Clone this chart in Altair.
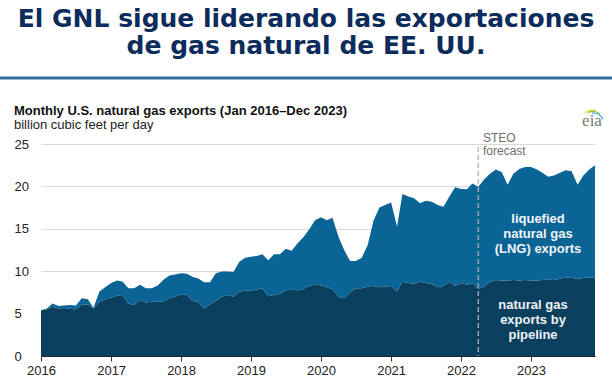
import altair as alt
import pandas as pd

# ---------------- data ----------------
months = [f"{y}/{m:02d}/01" for y in range(2016, 2024) for m in range(1, 13)]

pipeline = [
    5.4, 5.5, 5.8, 5.6, 5.65, 5.55, 5.5, 6.0, 6.1, 5.6, 6.4, 6.7,      # 2016
    6.9, 7.1, 7.2, 6.2, 6.0, 6.6, 6.3, 6.4, 6.4, 6.4, 6.8, 7.0,        # 2017
    7.3, 7.2, 6.5, 6.4, 5.6, 6.1, 6.5, 7.0, 7.2, 7.0, 7.6, 7.7,        # 2018
    7.7, 7.85, 8.0, 7.05, 7.2, 7.35, 7.75, 7.8, 7.75, 7.9, 8.3, 8.4,   # 2019
    8.3, 8.1, 7.9, 7.0, 6.8, 7.5, 8.0, 8.0, 8.2, 8.25, 8.1, 8.2,       # 2020
    8.25, 7.6, 8.75, 8.6, 8.5, 8.75, 8.6, 8.5, 8.1, 8.25, 8.75, 8.25,  # 2021
    8.6, 8.4, 8.6, 7.9, 8.2, 8.75, 8.95, 8.9, 8.9, 8.95, 8.9, 8.95,    # 2022
    8.9, 8.9, 8.95, 9.0, 8.95, 9.1, 9.3, 9.2, 9.1, 9.2, 9.3, 9.25,     # 2023
]

lng = [
    0.0, 0.1, 0.4, 0.3, 0.3, 0.45, 0.45, 0.8, 0.6, 0.1, 1.2, 1.4,          # 2016
    1.7, 1.8, 1.6, 1.8, 2.0, 1.8, 1.7, 1.6, 1.9, 2.6, 2.7, 2.6,            # 2017
    2.45, 2.5, 2.85, 2.75, 3.1, 2.6, 3.25, 2.95, 2.75, 2.9, 3.5, 3.9,      # 2018
    4.0, 3.95, 4.0, 4.25, 4.8, 4.65, 4.9, 4.6, 5.55, 6.1, 6.65, 7.6,       # 2019
    8.05, 7.9, 8.4, 7.1, 5.7, 3.7, 3.2, 3.6, 4.9, 7.7, 9.4, 9.6,           # 2020
    9.85, 7.65, 10.35, 10.2, 10.1, 9.25, 9.7, 9.7, 9.7, 9.35, 10.05, 11.65,  # 2021
    11.1, 11.25, 11.75, 12.05, 12.6, 12.75, 13.05, 12.8, 11.3, 12.55, 13.15, 13.35,  # 2022
    13.4, 13.1, 12.65, 12.15, 12.35, 12.5, 12.6, 12.6, 11.1, 12.1, 12.7, 13.25,      # 2023
]

series = ["pipeline", "LNG"]
series_colors = ["#0b3f5e", "#0a6496"]
year_ticks = list(range(2016, 2024))
y_ticks = [0, 5, 10, 15, 20, 25]
forecast_start = ["2022/04/01"]

title_text = "El GNL sigue liderando las exportaciones\nde gas natural de EE. UU."
subtitle_text = "Monthly U.S. natural gas exports (Jan 2016\u2013Dec 2023)"
units_text = "billion cubic feet per day"
steo_text = "STEO\nforecast"
lng_label = "liquefied\nnatural gas\n(LNG) exports"
pipe_label = "natural gas\nexports by\npipeline"

# ---------------- build table ----------------
rows = []
for i, d in enumerate(months):
    rows.append({"date": d, "series": series[0], "ord": 0, "value": pipeline[i]})
    rows.append({"date": d, "series": series[1], "ord": 1, "value": lng[i]})
df = pd.DataFrame(rows)

W, H = 554, 212
FONT = "Liberation Sans"

x_enc = alt.X(
    "date:T",
    scale=alt.Scale(domain=[alt.DateTime(year=2016, month=1, date=1),
                            alt.DateTime(year=2023, month=12, date=1)]),
    axis=alt.Axis(
        values=[alt.DateTime(year=y, month=1, date=1) for y in year_ticks],
        format="%Y", title=None, grid=False,
        labelFont=FONT, labelFontSize=13, labelColor="#222222",
        tickColor="#333333", tickSize=5, domainColor="#222222",
        labelPadding=3, labelFlush=False,
    ),
)

areas = alt.Chart(df).mark_area(interpolate="linear").encode(
    x=x_enc,
    y=alt.Y(
        "value:Q", stack="zero",
        scale=alt.Scale(domain=[0, 25], nice=False),
        axis=alt.Axis(
            values=y_ticks, title=None, ticks=False, domain=False,
            labelAlign="left", labelPadding=27,
            labelFont=FONT, labelFontSize=13, labelColor="#222222",
            gridColor="#d9d9d9", gridWidth=1,
        ),
    ),
    color=alt.Color("series:N", scale=alt.Scale(domain=series, range=series_colors), legend=None),
    order=alt.Order("ord:Q", sort="ascending"),
)

forecast_rule = alt.Chart(pd.DataFrame({"date": forecast_start})).mark_rule(
    strokeDash=[5, 3], color="#b3b3b3", strokeWidth=1.5, opacity=0.85
).encode(x="date:T", y=alt.value(3), y2=alt.value(H))


def txt(text, x, y, **kw):
    return alt.Chart(pd.DataFrame({"t": [text]})).mark_text(lineBreak="\n", **kw).encode(
        text="t:N", x=alt.value(x), y=alt.value(y)
    )


title = txt(title_text, 265, -117, font="DejaVu Sans", fontSize=25, fontWeight="bold",
            color="#0c2c5c", align="center", baseline="alphabetic", lineHeight=27)
sep = alt.Chart(pd.DataFrame({"a": [0]})).mark_rule(color="#2c6fa0", strokeWidth=3).encode(
    x=alt.value(-41), x2=alt.value(571), y=alt.value(-66)
)
subtitle = txt(subtitle_text, -27, -29, font=FONT, fontSize=13, fontWeight="bold",
               color="#111111", align="left", baseline="alphabetic")
units = txt(units_text, -27, -15, font=FONT, fontSize=13, color="#222222",
            align="left", baseline="alphabetic")
steo = txt(steo_text, 442, -2.3, font=FONT, fontSize=12, color="#6e6e6e",
           align="left", baseline="alphabetic", lineHeight=13.3)
lng_txt = txt(lng_label, 497, 78.5, font=FONT, fontSize=13, fontWeight="bold",
              color="#f2f5f8", align="center", baseline="alphabetic", lineHeight=15)
pipe_txt = txt(pipe_label, 492, 164.5, font=FONT, fontSize=13, fontWeight="bold",
               color="#eef2f5", align="center", baseline="alphabetic", lineHeight=15)

# eia logo
eia = txt("eia", 551, -18.5, font="Liberation Serif", fontSize=17, color="#7a7a7a",
          align="center", baseline="alphabetic")


def arc(t1, t2, r1, r2, c):
    return alt.Chart(pd.DataFrame({"a": [0]})).mark_arc(
        theta=t1, theta2=t2, radius=r1, radius2=r2, color=c
    ).encode(x=alt.value(552), y=alt.value(-20))


logo = arc(5.65, 6.5, 14.5, 13.2, "#f2cf2a") + arc(5.85, 6.9, 13.0, 11.8, "#8cc63f") + \
    arc(6.2, 7.4, 11.6, 10.4, "#2a9ad6")

chart = alt.layer(
    areas, forecast_rule, title, sep, subtitle, units, steo, lng_txt, pipe_txt, eia, logo
).properties(
    width=W, height=H,
    autosize=alt.AutoSizeParams(type="none"),
    padding={"left": 41, "top": 144, "right": 17, "bottom": 20},
    background="white",
).configure_view(stroke=None)

chart.save("out.html", embed_options={"renderer": "svg", "actions": False})
